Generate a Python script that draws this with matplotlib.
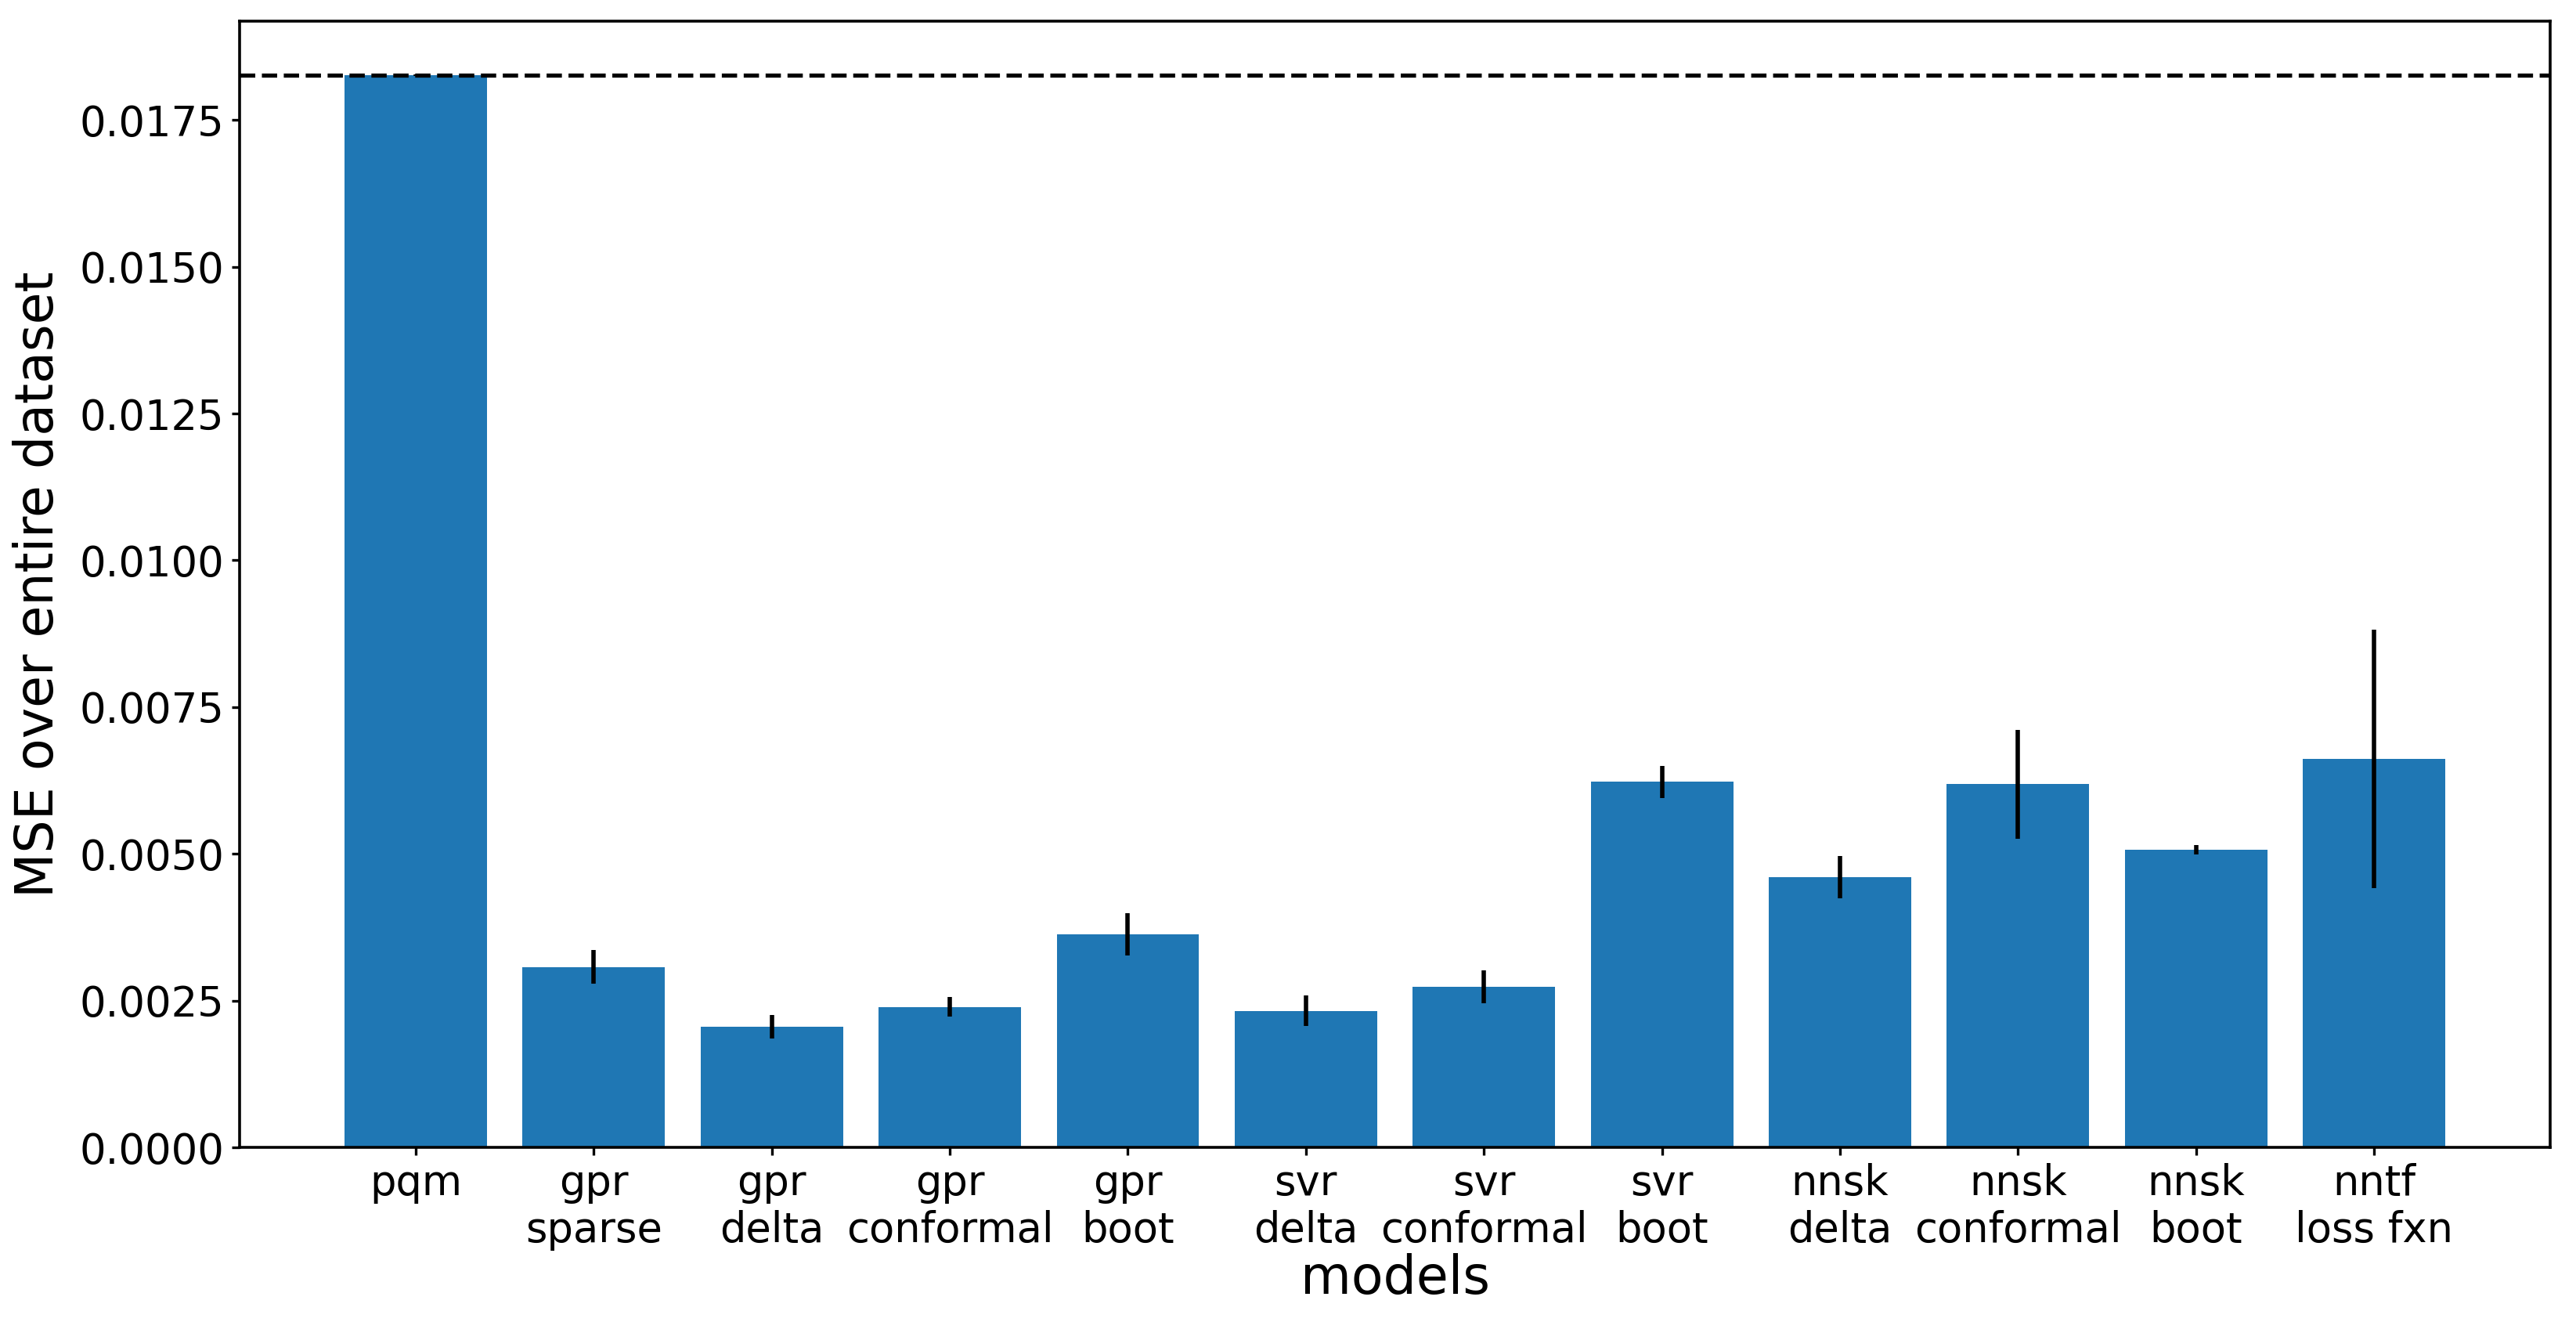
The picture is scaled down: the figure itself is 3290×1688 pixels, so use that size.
import numpy as np
import matplotlib
matplotlib.use("Agg")
import matplotlib.pyplot as plt

models = ["pqm", "gpr\nsparse", "gpr\ndelta", "gpr\nconformal", "gpr\nboot",
          "svr\ndelta", "svr\nconformal", "svr\nboot", "nnsk\ndelta",
          "nnsk\nconformal", "nnsk\nboot", "nntf\nloss fxn"]
mse = [0.01826, 0.003075, 0.002055, 0.002395, 0.003630, 0.002325,
       0.002740, 0.006225, 0.004600, 0.006185, 0.005070, 0.006620]
mse_err = [0.00001, 0.00029, 0.00020, 0.00017, 0.00036, 0.00026,
           0.00028, 0.00027, 0.00036, 0.00093, 0.00008, 0.00220]

fig = plt.figure(figsize=(16.45, 8.44), dpi=200)
ax = fig.add_axes([0.093, 0.132, 0.897, 0.852])

x = np.arange(len(models))
ax.bar(x, mse, yerr=mse_err, color="#1f77b4", width=0.8,
       error_kw=dict(elinewidth=2.0, ecolor="black"))
ax.axhline(mse[0], color="black", linestyle="--", linewidth=1.9)

ax.set_xticks(x)
ax.set_xticklabels(models, fontsize=19)
ax.tick_params(axis="y", labelsize=19)
ax.tick_params(width=1.2, length=3.5)
for s in ax.spines.values():
    s.set_linewidth(1.3)
ax.set_xlabel("models", fontsize=24, labelpad=1)
ax.set_ylabel("MSE over entire dataset", fontsize=24, labelpad=7)

fig.savefig("out.png", dpi=200)
plt.close()
